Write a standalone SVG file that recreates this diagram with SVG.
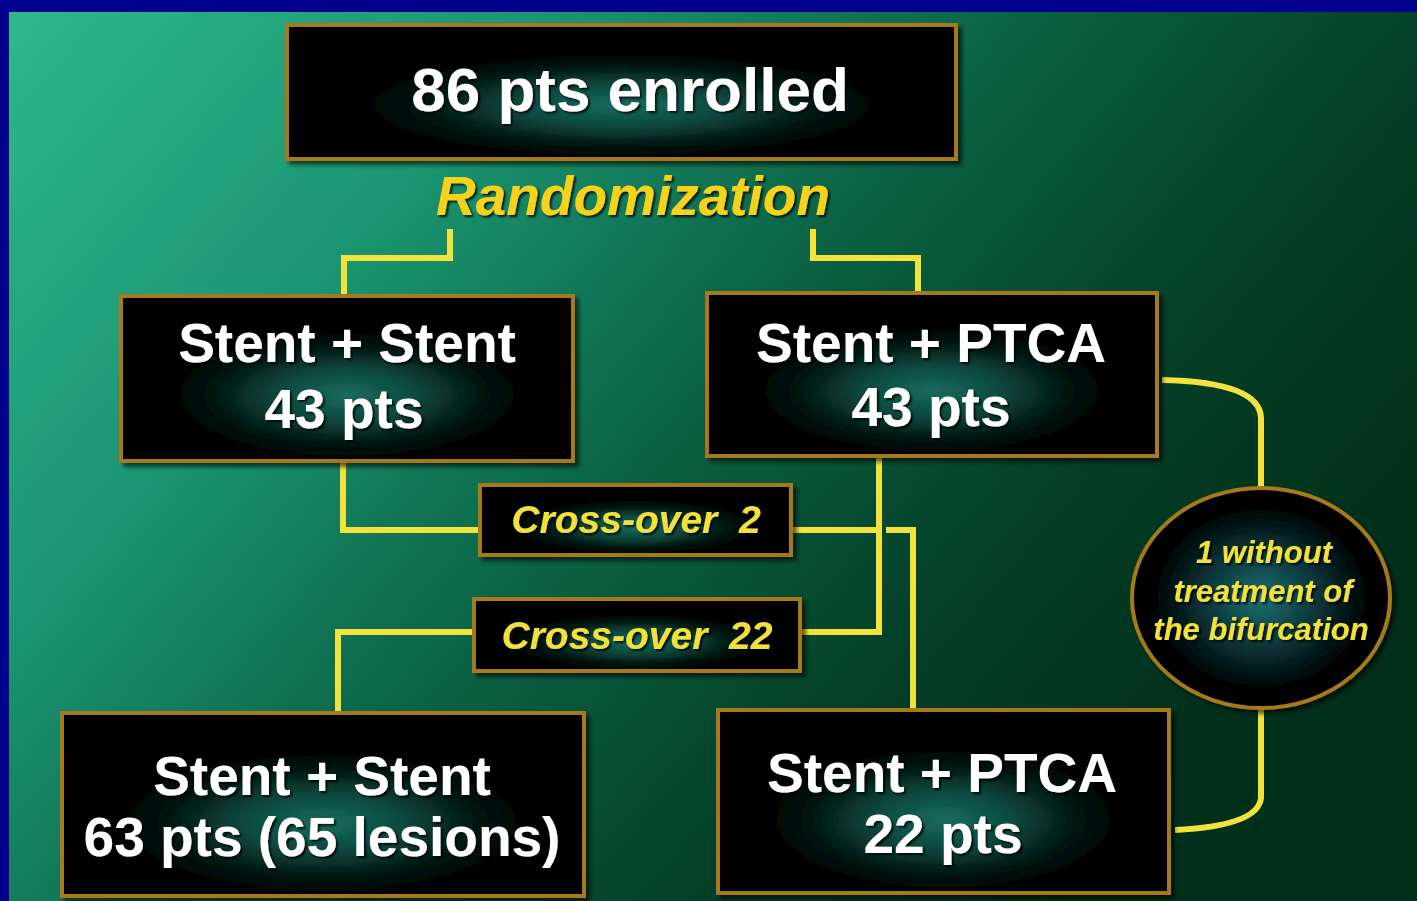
<svg xmlns="http://www.w3.org/2000/svg" width="1417" height="901" viewBox="0 0 1417 901">
  <defs>
    <linearGradient id="bg" x1="0" y1="0" x2="1" y2="0.55">
      <stop offset="0" stop-color="#2fb88e"/>
      <stop offset="0.3" stop-color="#1b9672"/>
      <stop offset="0.55" stop-color="#0b6445"/>
      <stop offset="0.8" stop-color="#043e26"/>
      <stop offset="1" stop-color="#01301a"/>
    </linearGradient>
    <radialGradient id="glow" cx="0.5" cy="0.6" r="0.5">
      <stop offset="0" stop-color="#176a5e"/>
      <stop offset="0.3" stop-color="#0c4a40"/>
      <stop offset="0.6" stop-color="#03150f"/>
      <stop offset="0.8" stop-color="#000000"/>
    </radialGradient>
    <radialGradient id="glowOval" cx="0.5" cy="0.5" r="0.5">
      <stop offset="0" stop-color="#1d6f72"/>
      <stop offset="0.45" stop-color="#0a3438"/>
      <stop offset="0.85" stop-color="#000000"/>
    </radialGradient>
    <filter id="drop" x="-10%" y="-10%" width="130%" height="130%">
      <feDropShadow dx="4" dy="4" stdDeviation="2" flood-color="#000" flood-opacity="0.6"/>
    </filter>
    <filter id="tshadow" x="-5%" y="-20%" width="115%" height="150%">
      <feDropShadow dx="2" dy="2" stdDeviation="1.2" flood-color="#000" flood-opacity="0.8"/>
    </filter>
  </defs>
  <style>
    .box { fill: url(#glow); stroke: #a67a1a; stroke-width: 4; }
    .oval { fill: url(#glowOval); stroke: #a67a1a; stroke-width: 4; }
    .main { font-family: "Liberation Sans", Arial, sans-serif; font-weight: bold; fill: #ffffff; text-anchor: middle; }
    .label { font-family: "Liberation Sans", Arial, sans-serif; font-weight: bold; font-style: italic; fill: #f2e03a; text-anchor: middle; }
    .title { fill: #f5d21c; }
    .wire { fill: none; stroke: #f2e33c; stroke-width: 6; stroke-linejoin: miter; }
  </style>

  <!-- backdrop and frame -->
  <rect x="0" y="0" width="1417" height="901" fill="url(#bg)"/>
  <rect x="0" y="0" width="1417" height="12" fill="#00008c"/>
  <rect x="0" y="0" width="9" height="901" fill="#00008c"/>

  <!-- connectors -->
  <g id="connectors" class="wire">
    <path d="M450,229 V258 H344 V296"/>
    <path d="M813,229 V258 H918 V293"/>
    <path d="M343,462 V530 H481"/>
    <path d="M792,530 H876"/>
    <path d="M886,530 H913 V710"/>
    <path d="M879,457 V632 H801"/>
    <path d="M473,632 H338 V712"/>
    <path d="M1162,380 Q1260,382 1261,418 V488"/>
    <path d="M1261,708 V798 Q1258,826 1175,830"/>
  </g>

  <!-- enrolled -->
  <g id="enrolled" filter="url(#drop)">
    <rect class="box" x="287" y="25" width="669" height="134"/>
    <text class="main" x="630" y="111" font-size="62" filter="url(#tshadow)">86 pts enrolled</text>
  </g>

  <g id="randomization">
    <text class="label title" x="633" y="215" font-size="55" filter="url(#tshadow)">Randomization</text>
  </g>

  <!-- randomized arms -->
  <g id="arm-stent-stent" filter="url(#drop)">
    <rect class="box" x="121" y="296" width="452" height="165"/>
    <text class="main" x="347" y="362" font-size="55" filter="url(#tshadow)">Stent + Stent</text>
    <text class="main" x="344" y="428" font-size="55" filter="url(#tshadow)">43 pts</text>
  </g>

  <g id="arm-stent-ptca" filter="url(#drop)">
    <rect class="box" x="707" y="293" width="450" height="163"/>
    <text class="main" x="931" y="362" font-size="55" filter="url(#tshadow)">Stent + PTCA</text>
    <text class="main" x="931" y="426" font-size="55" filter="url(#tshadow)">43 pts</text>
  </g>

  <!-- cross-overs -->
  <g id="crossover-2" filter="url(#drop)">
    <rect class="box" x="480" y="485" width="311" height="70"/>
    <text class="label" x="636" y="533" font-size="39" xml:space="preserve" filter="url(#tshadow)">Cross-over  2</text>
  </g>

  <g id="crossover-22" filter="url(#drop)">
    <rect class="box" x="474" y="599" width="326" height="72"/>
    <text class="label" x="637" y="649" font-size="39" xml:space="preserve" filter="url(#tshadow)">Cross-over  22</text>
  </g>

  <!-- untreated note -->
  <g id="untreated" filter="url(#drop)">
    <ellipse class="oval" cx="1261" cy="598" rx="129" ry="110"/>
    <text class="label" x="1264" y="563" font-size="31" filter="url(#tshadow)">1 without</text>
    <text class="label" x="1263" y="602" font-size="31" filter="url(#tshadow)">treatment of</text>
    <text class="label" x="1261" y="640" font-size="31" filter="url(#tshadow)">the bifurcation</text>
  </g>

  <!-- treated groups -->
  <g id="final-stent-stent" filter="url(#drop)">
    <rect class="box" x="62" y="713" width="522" height="183"/>
    <text class="main" x="322" y="795" font-size="55" filter="url(#tshadow)">Stent + Stent</text>
    <text class="main" x="322" y="856" font-size="55" filter="url(#tshadow)">63 pts (65 lesions)</text>
  </g>

  <g id="final-stent-ptca" filter="url(#drop)">
    <rect class="box" x="718" y="710" width="451" height="183"/>
    <text class="main" x="942" y="792" font-size="55" filter="url(#tshadow)">Stent + PTCA</text>
    <text class="main" x="943" y="853" font-size="55" filter="url(#tshadow)">22 pts</text>
  </g>
</svg>
